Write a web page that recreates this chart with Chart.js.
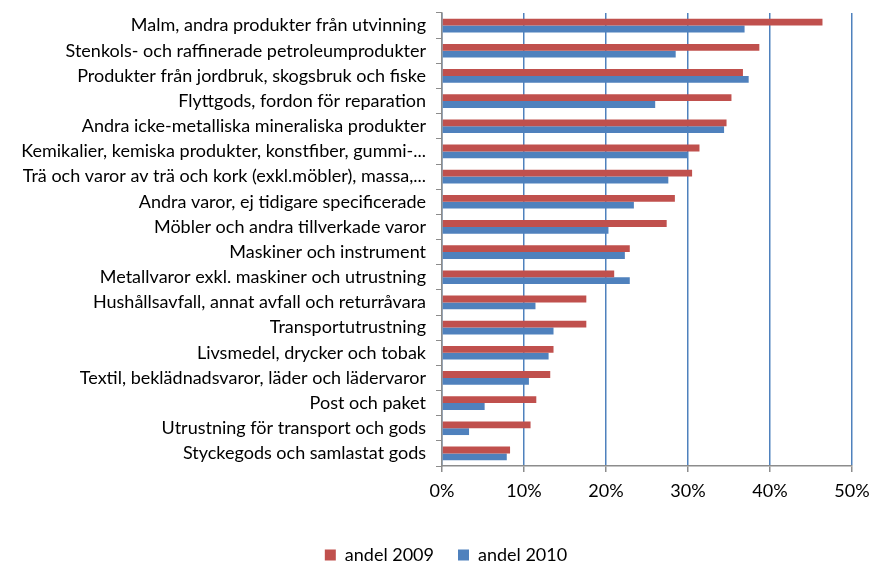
<!DOCTYPE html>
<html>
<head>
<meta charset="utf-8">
<script src="https://cdn.jsdelivr.net/npm/chart.js@4.4.1/dist/chart.umd.min.js"></script>
<style>
  body { margin: 0; background: #fff; }
</style>
</head>
<body>
<canvas id="chart" width="873" height="563"></canvas>
<script>
// red: #C0504D, blue: #4F81BD
var categories = [
    "Malm, andra produkter från utvinning",
    "Stenkols- och raffinerade petroleumprodukter",
    "Produkter från jordbruk, skogsbruk och fiske",
    "Flyttgods, fordon för reparation",
    "Andra icke-metalliska mineraliska produkter",
    "Kemikalier, kemiska produkter, konstfiber, gummi-...",
    "Trä och varor av trä och kork (exkl.möbler), massa,...",
    "Andra varor, ej tidigare specificerade",
    "Möbler och andra tillverkade varor",
    "Maskiner och instrument",
    "Metallvaror exkl. maskiner och utrustning",
    "Hushållsavfall, annat avfall och returråvara",
    "Transportutrustning",
    "Livsmedel, drycker och tobak",
    "Textil, beklädnadsvaror, läder och lädervaror",
    "Post och paket",
    "Utrustning för transport och gods",
    "Styckegods och samlastat gods"
];
var andel2009 = [46.4, 38.7, 36.7, 35.3, 34.7, 31.4, 30.5, 28.4, 27.4, 22.9, 21.0, 17.6, 17.6, 13.6, 13.2, 11.5, 10.8, 8.3];
var andel2010 = [36.9, 28.5, 37.4, 26.0, 34.4, 30.0, 27.6, 23.4, 20.3, 22.3, 22.9, 11.4, 13.6, 13.0, 10.6, 5.2, 3.3, 7.9];
var xMin = 0, xMax = 50, xStep = 10;

var fontFamily = "Lato, 'Liberation Sans', sans-serif";
var fontSize = 18;

// move the legend down and to the right, like the Excel original
var legendShift = {
    id: 'legendShift',
    afterLayout: function (chart) {
        chart.legend.top += 11;
        chart.legend.bottom += 11;
        chart.legend.left += 20;
        chart.legend.right += 20;
    }
};

var ctx = document.getElementById('chart');
var chart = new Chart(ctx, {
    type: 'bar',
    data: {
        labels: categories,
        datasets: [{
            label: 'andel 2009',
            data: andel2009,
            backgroundColor: '#C0504D',
            borderWidth: 0,
            categoryPercentage: 0.54,
            barPercentage: 1.0
        }, {
            label: 'andel 2010',
            data: andel2010,
            backgroundColor: '#4F81BD',
            borderWidth: 0,
            categoryPercentage: 0.54,
            barPercentage: 1.0
        }]
    },
    plugins: [legendShift],
    options: {
        responsive: false,
        animation: false,
        indexAxis: 'y',
        layout: { padding: { top: 13, right: 21, left: 0, bottom: 0 } },
        plugins: {
            tooltip: { enabled: false },
            legend: {
                position: 'bottom',
                labels: {
                    color: '#000',
                    font: { family: fontFamily, size: fontSize },
                    boxWidth: 11,
                    boxHeight: 11,
                    padding: 24
                }
            }
        },
        scales: {
            x: {
                min: xMin,
                max: xMax,
                ticks: {
                    stepSize: xStep,
                    color: '#000',
                    font: { family: fontFamily, size: fontSize },
                    padding: 8,
                    callback: function (v) { return v + '%'; }
                },
                grid: {
                    color: '#4F81BD',
                    lineWidth: 1.5,
                    tickColor: '#8c8c8c',
                    tickLength: 6
                },
                border: { color: '#8c8c8c', width: 1.5 },
                afterFit: function (scale) {
                    scale.height = 45;
                    scale.paddingLeft = 0;
                    scale.paddingRight = 0;
                }
            },
            y: {
                ticks: {
                    color: '#000',
                    font: { family: fontFamily, size: fontSize },
                    padding: 10,
                    autoSkip: false
                },
                grid: {
                    drawOnChartArea: false,
                    color: '#8c8c8c',
                    tickLength: 6,
                    offset: true
                },
                border: { color: '#8c8c8c', width: 1.5 },
                afterFit: function (scale) {
                    scale.width = 442;
                    scale.paddingTop = 0;
                    scale.paddingBottom = 0;
                }
            }
        }
    }
});
</script>
</body>
</html>
